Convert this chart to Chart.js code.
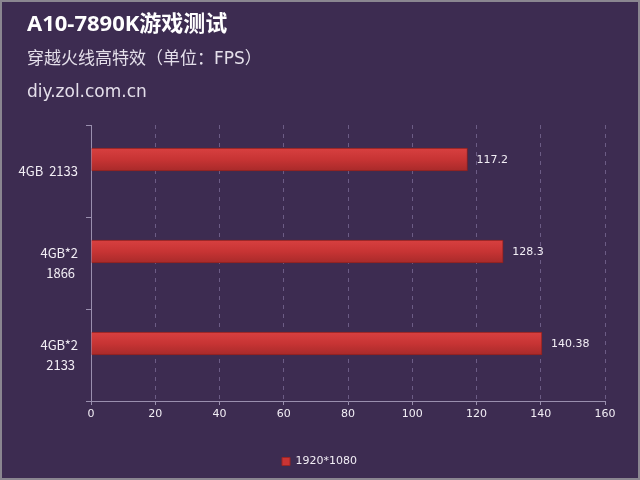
<!DOCTYPE html>
<html>
<head>
<meta charset="utf-8">
<script src="https://cdn.jsdelivr.net/npm/chart.js@4"></script>
<style>
  html, body { margin: 0; padding: 0; background: #3d2c51; }
  #wrap { width: 640px; height: 480px; position: relative; }
</style>
</head>
<body>
<div id="wrap"><canvas id="chart" width="640" height="480"></canvas></div>
<script>
// chart texts
const titleText = 'A10-7890K游戏测试';
const subtitleText = '穿越火线高特效（单位：FPS）';
const sourceText = 'diy.zol.com.cn';

// data
const categories = [['4GB  2133'], ['4GB*2', '1866 '], ['4GB*2', '2133 ']];
const seriesName = '1920*1080';
const fpsValues = [117.2, 128.3, 140.38];
const valueLabels = ['117.2', '128.3', '140.38'];
// second series slot of the original sheet is empty, so bars sit above centre
const emptySeries = [null, null, null];
const xTicks = [0, 20, 40, 60, 80, 100, 120, 140, 160];

// headings + frame, drawn on canvas
const headerPlugin = {
  id: 'header',
  afterLayout(chart) {
    // legend sits centred under the plot, not the whole canvas
    chart.legend.left += 17;
    chart.legend.right += 17;
  },
  beforeDraw(chart) {
    const c = chart.ctx;
    c.save();
    c.fillStyle = '#3d2c51';
    c.fillRect(0, 0, chart.width, chart.height);
    c.textBaseline = 'middle';
    c.textAlign = 'left';
    c.fillStyle = '#ffffff';
    c.font = 'bold 22px "Open Sans", "Noto Sans CJK SC", sans-serif';
    c.fillText(titleText, 27, 25);
    c.fillStyle = '#e4dfea';
    c.font = '17px "DejaVu Sans", "Noto Sans CJK SC", sans-serif';
    c.fillText(subtitleText, 27, 60);
    c.fillText(sourceText, 27, 93);
    c.restore();
  },
  afterDraw(chart) {
    const c = chart.ctx;
    c.save();
    c.strokeStyle = '#8a8690';
    c.lineWidth = 2;
    c.strokeRect(1, 1, chart.width - 2, chart.height - 2);
    c.restore();
  }
};

// red gradient on each bar, once the bars have their positions
const barShadePlugin = {
  id: 'barShade',
  beforeDatasetsDraw(chart) {
    const c = chart.ctx;
    chart.getDatasetMeta(0).data.forEach(bar => {
      const h = bar.height;
      const g = c.createLinearGradient(0, bar.y - h / 2, 0, bar.y + h / 2);
      g.addColorStop(0, '#d84040');
      g.addColorStop(0.5, '#c73434');
      g.addColorStop(1, '#a82a2a');
      bar.options.backgroundColor = g;
    });
  }
};

// value labels right of bars
const valueLabelPlugin = {
  id: 'valueLabels',
  afterDatasetsDraw(chart) {
    const c = chart.ctx;
    const meta = chart.getDatasetMeta(0);
    c.save();
    c.fillStyle = '#f2eef5';
    c.font = '11px "DejaVu Sans", sans-serif';
    c.textBaseline = 'middle';
    c.textAlign = 'left';
    meta.data.forEach((bar, i) => {
      c.fillText(valueLabels[i], bar.x + 9, bar.y + 1);
    });
    c.restore();
  }
};

const ctx = document.getElementById('chart').getContext('2d');

new Chart(ctx, {
  type: 'bar',
  data: {
    labels: categories,
    datasets: [{
      label: seriesName,
      data: fpsValues,
      // scriptable so every bar keeps its own options object
      backgroundColor: () => '#c93434',
      borderColor: '#8a2020',
      borderWidth: 1,
      barThickness: 23,
    }, {
      label: '',
      data: emptySeries,
      barThickness: 23,
    }]
  },
  options: {
    indexAxis: 'y',
    responsive: false,
    animation: false,
    layout: { padding: { top: 125, right: 35, bottom: 3, left: 0 } },
    plugins: {
      tooltip: { enabled: false },
      legend: {
        position: 'bottom',
        labels: {
          color: '#f2eef5',
          font: { family: '"DejaVu Sans", sans-serif', size: 11 },
          boxWidth: 8,
          boxHeight: 8,
          padding: 8,
          generateLabels: () => [{
            text: seriesName,
            fillStyle: '#c93434',
            strokeStyle: '#9a2525',
            lineWidth: 1,
            fontColor: '#f2eef5',
          }]
        }
      }
    },
    scales: {
      x: {
        min: 0,
        max: 160,
        afterBuildTicks: scale => { scale.ticks = xTicks.map(v => ({ value: v })); },
        afterFit: scale => { scale.height = 47; },
        border: { display: true, color: '#9a8fae', width: 1, dash: [4, 5] },
        grid: {
          color: c => c.tick && c.tick.value === 0 ? 'rgba(0,0,0,0)' : '#6c5c85',
          tickColor: '#9a8fae',
          tickLength: 4,
          tickBorderDash: [],
        },
        ticks: {
          color: '#f2eef5',
          font: { family: '"DejaVu Sans", sans-serif', size: 11 },
          padding: 3,
        }
      },
      y: {
        afterFit: scale => { scale.width = 91; },
        border: { color: '#9a8fae', width: 1 },
        grid: {
          offset: true,
          drawOnChartArea: false,
          tickColor: '#9a8fae',
          tickLength: 5,
        },
        ticks: {
          color: '#f2eef5',
          font: { family: '"Noto Sans CJK SC", sans-serif', size: 13, lineHeight: 1.5 },
          padding: 8,
        }
      }
    }
  },
  plugins: [headerPlugin, barShadePlugin, valueLabelPlugin]
});
</script>
</body>
</html>
